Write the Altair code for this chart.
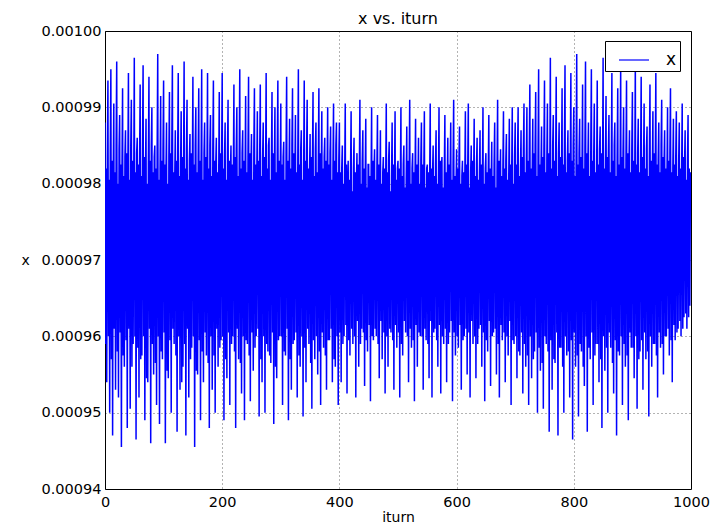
import altair as alt
import pandas as pd

# x values in units of 1e-7, one per turn
x_e7 = [
9880,9590,9820,9540,9835,9935,9600,9805,9500,9840,9950,9570,9830,9470,9810,9905,9610,9815,9530,9850,
9960,9580,9800,9520,9845,9890,9605,9825,9455,9820,9925,9575,9810,9560,9835,9870,9595,9840,9480,9815,
9945,9610,9805,9505,9850,9910,9560,9830,9590,9800,9965,9600,9815,9465,9840,9860,9585,9825,9520,9830,
9930,9570,9810,9575,9845,9955,9600,9835,9490,9810,9885,9545,9800,9540,9825,9940,9610,9830,9460,9850,
9900,9590,9815,9550,9835,9850,9565,9820,9510,9840,9970,9600,9805,9485,9820,9915,9580,9830,9570,9845,
9935,9605,9825,9460,9810,9880,9555,9800,9545,9835,9920,9595,9840,9500,9850,9955,9610,9815,9590,9805,
9870,9575,9830,9475,9840,9945,9600,9810,9530,9825,9895,9540,9835,9560,9815,9960,9590,9820,9470,9845,
9910,9610,9805,9520,9830,9865,9570,9840,9585,9810,9940,9600,9825,9455,9850,9900,9555,9815,9550,9835,
9925,9595,9830,9490,9820,9950,9580,9805,9540,9840,9880,9605,9835,9575,9815,9945,9565,9820,9480,9850,
9890,9600,9810,9530,9845,9935,9575,9830,9500,9825,9860,9610,9815,9560,9805,9920,9585,9840,9595,9830,
9945,9600,9820,9490,9835,9880,9570,9805,9545,9840,9910,9605,9830,9510,9815,9850,9590,9825,9600,9810,
9930,9580,9835,9480,9845,9900,9610,9810,9570,9825,9950,9565,9820,9525,9840,9870,9600,9830,9490,9805,
9915,9595,9815,9590,9835,9940,9575,9840,9515,9820,9865,9605,9805,9555,9845,9925,9585,9825,9600,9810,
9895,9610,9830,9495,9840,9930,9570,9810,9540,9835,9880,9600,9835,9500,9815,9945,9590,9820,9580,9850,
9860,9575,9805,9565,9830,9920,9605,9840,9485,9820,9900,9560,9815,9545,9845,9935,9595,9830,9600,9810,
9905,9600,9825,9510,9835,9855,9580,9805,9575,9840,9940,9610,9830,9490,9815,9885,9570,9820,9530,9850,
9925,9590,9840,9595,9810,9890,9605,9815,9520,9830,9950,9575,9825,9560,9845,9870,9600,9805,9495,9820,
9935,9585,9830,9540,9840,9910,9610,9820,9590,9815,9865,9565,9835,9505,9830,9920,9595,9810,9570,9845,
9880,9600,9815,9550,9825,9925,9580,9840,9510,9810,9895,9605,9820,9585,9835,9860,9575,9830,9530,9815,
9900,9595,9825,9595,9840,9875,9610,9805,9540,9820,9905,9570,9830,9560,9850,9880,9600,9815,9510,9830,
9880,9605,9815,9540,9820,9850,9590,9800,9600,9810,9905,9615,9825,9525,9795,9830,9595,9805,9575,9815,
9895,9610,9790,9590,9820,9860,9600,9815,9520,9800,9840,9620,9825,9560,9810,9910,9590,9800,9610,9830,
9870,9605,9820,9535,9805,9885,9595,9795,9580,9825,9825,9615,9810,9515,9800,9900,9600,9830,9595,9815,
9845,9610,9805,9600,9820,9890,9590,9825,9545,9795,9870,9620,9800,9570,9815,9835,9605,9820,9525,9805,
9905,9600,9815,9560,9830,9855,9610,9790,9605,9810,9880,9595,9825,9530,9800,9895,9615,9805,9585,9820,
9830,9605,9820,9520,9795,9900,9590,9810,9575,9825,9850,9620,9795,9605,9805,9875,9600,9830,9540,9815,
9910,9610,9800,9585,9820,9840,9595,9815,9515,9805,9885,9615,9825,9560,9795,9860,9605,9800,9600,9830,
9880,9600,9825,9530,9810,9895,9610,9795,9595,9820,9825,9590,9815,9545,9800,9905,9620,9820,9520,9815,
9850,9605,9810,9610,9825,9870,9595,9800,9560,9805,9900,9615,9830,9525,9820,9835,9600,9795,9590,9810,
9890,9610,9815,9540,9800,9860,9590,9825,9605,9815,9880,9620,9805,9515,9825,9910,9605,9810,9575,9795,
9845,9600,9820,9585,9830,9875,9615,9800,9530,9810,9830,9595,9815,9600,9805,9895,9610,9825,9550,9820,
9905,9605,9795,9520,9815,9850,9620,9830,9590,9800,9885,9600,9810,9545,9825,9860,9590,9805,9610,9815,
9870,9615,9825,9560,9805,9900,9605,9800,9515,9820,9840,9595,9815,9580,9810,9890,9620,9820,9535,9800,
9855,9600,9810,9605,9825,9880,9610,9795,9550,9815,9910,9590,9830,9520,9805,9845,9615,9810,9595,9820,
9895,9605,9820,9540,9830,9865,9600,9805,9575,9810,9885,9620,9825,9510,9815,9900,9595,9800,9590,9835,
9880,9600,9825,9545,9840,9900,9580,9810,9575,9820,9870,9605,9835,9525,9845,9905,9590,9815,9560,9830,
9900,9575,9830,9510,9840,9930,9600,9820,9545,9815,9885,9570,9840,9580,9850,9920,9605,9810,9500,9835,
9950,9585,9825,9555,9820,9875,9565,9835,9505,9845,9935,9600,9815,9590,9830,9905,9580,9840,9475,9810,
9965,9595,9820,9530,9850,9890,9570,9830,9565,9825,9940,9605,9810,9470,9840,9880,9585,9835,9585,9815,
9925,9560,9825,9500,9845,9955,9600,9815,9575,9830,9870,9580,9840,9520,9820,9945,9595,9830,9465,9850,
9900,9605,9810,9560,9835,9970,9575,9825,9495,9840,9885,9590,9835,9580,9815,9930,9560,9820,9535,9845,
9960,9600,9840,9475,9825,9880,9585,9810,9570,9850,9950,9605,9830,9510,9835,9905,9575,9815,9590,9820,
9935,9590,9825,9540,9845,9875,9570,9840,9480,9810,9965,9600,9820,9555,9830,9915,9585,9835,9500,9840,
9890,9605,9815,9585,9825,9945,9565,9830,9525,9850,9880,9595,9810,9470,9835,9925,9580,9825,9575,9815,
9955,9600,9835,9510,9840,9900,9590,9820,9560,9830,9935,9575,9840,9490,9820,9870,9605,9815,9585,9845,
9920,9585,9830,9545,9810,9960,9600,9825,9505,9840,9885,9570,9815,9580,9830,9940,9595,9835,9530,9825,
9905,9605,9820,9570,9845,9875,9580,9810,9495,9835,9930,9600,9830,9560,9815,9895,9590,9840,9590,9820,
9945,9575,9825,9520,9830,9880,9605,9815,9585,9850,9910,9590,9835,9550,9825,9870,9600,9820,9600,9810,
9900,9610,9830,9575,9840,9925,9595,9815,9540,9820,9885,9615,9825,9595,9835,9895,9605,9810,9610,9830,
9880,9620,9820,9600,9815,9905,9610,9835,9625,9825,9870,9630,9805,9610,9830,9890,9625,9820,9640,9815,
]
iturn = list(range(len(x_e7)))
y_ticks = [0.00094, 0.00095, 0.00096, 0.00097, 0.00098, 0.00099, 0.00100]
x_ticks = [0, 200, 400, 600, 800, 1000]
series_name = ["x"]

df = pd.DataFrame({
    "iturn": iturn,
    "x": [v * 1e-7 for v in x_e7],
    "series": series_name * len(x_e7),
})

FONT = "DejaVu Sans"

chart = (
    alt.Chart(df)
    .mark_line(strokeWidth=1.5, clip=True)
    .encode(
        x=alt.X(
            "iturn:Q",
            scale=alt.Scale(domain=[0, 1000], nice=False, zero=False),
            axis=alt.Axis(values=x_ticks, title="iturn", format="d", labelFlush=False),
        ),
        y=alt.Y(
            "x:Q",
            scale=alt.Scale(domain=[0.00094, 0.00100], nice=False, zero=False),
            axis=alt.Axis(values=y_ticks, title="x", format=".5f", labelFlush=False),
        ),
        color=alt.Color(
            "series:N",
            scale=alt.Scale(domain=series_name, range=["#0000ff"]),
            legend=alt.Legend(
                title=None,
                orient="none",
                legendX=500,
                legendY=10,
                symbolType="stroke",
                symbolStrokeWidth=1.2,
                symbolSize=900,
                symbolOffset=10,
                labelFontSize=17,
                labelFont=FONT,
                labelColor="black",
                strokeColor="black",
                fillColor="white",
                padding=3,
                labelOffset=16,
                labelExpr="datum.label + '   '",
                cornerRadius=0,
            ),
        ),
    )
    .properties(
        width=586,
        height=458,
        title=alt.TitleParams("x vs. iturn", fontSize=16, font=FONT, fontWeight="normal", color="black", offset=-4),
        autosize=alt.AutoSizeParams(type="none"),
        padding={"left": 105, "top": 31, "right": 30, "bottom": 37},
    )
    .configure_view(stroke="black", strokeWidth=1)
    .configure_axis(
        labelFont=FONT,
        titleFont=FONT,
        labelFontSize=14.5,
        titleFontSize=14,
        titleFontWeight="normal",
        labelColor="black",
        titleColor="black",
        domain=False,
        ticks=False,
        grid=True,
        gridColor="black",
        gridDash=[1, 3],
        gridWidth=0.6,
        gridOpacity=1,
    )
    .configure_axisX(labelPadding=6, titlePadding=2)
    .configure_axisY(labelPadding=4, titlePadding=16, titleAngle=0, titleBaseline="middle")
)

chart.save("out.html", embed_options={"renderer": "svg", "actions": False})
